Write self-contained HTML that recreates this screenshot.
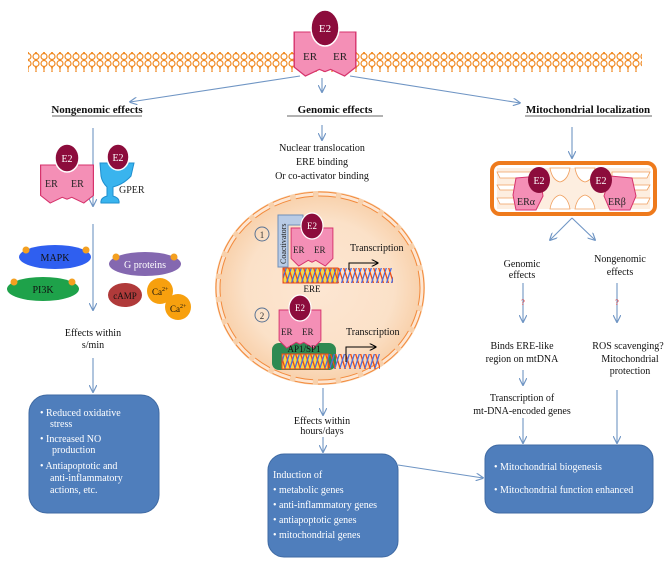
<!DOCTYPE html>
<html><head><meta charset="utf-8"><style>
html,body{margin:0;padding:0;background:#fff;}
svg{display:block;font-family:"Liberation Serif",serif;}
</style></head><body>
<svg width="670" height="564" viewBox="0 0 670 564" xmlns="http://www.w3.org/2000/svg">
<defs>
<marker id="a" viewBox="0 0 10 10" refX="9" refY="5" markerWidth="7" markerHeight="7" orient="auto"><path d="M0,0 L10,5 L0,10" fill="none" stroke="#6f95c4" stroke-width="1.5"/></marker>
<marker id="k" viewBox="0 0 10 10" refX="9" refY="5" markerWidth="7" markerHeight="7" orient="auto"><path d="M0,0 L10,5 L0,10" fill="none" stroke="#000" stroke-width="1.5"/></marker>
<pattern id="mem" width="8" height="20" patternUnits="userSpaceOnUse"><circle cx="4" cy="3.5" r="3" fill="#fff" stroke="#f08a24" stroke-width="1.2"/><circle cx="4" cy="16.5" r="3" fill="#fff" stroke="#f08a24" stroke-width="1.2"/><path d="M3,6 Q5,10 3,14 M5,6 Q3,10 5,14" stroke="#f08a24" fill="none" stroke-width="1"/></pattern>
<pattern id="dna" width="5" height="16" patternUnits="userSpaceOnUse"><path d="M0,0 Q2.5,8 5,16" stroke="#e84a1a" stroke-width="1.3" fill="none"/><path d="M0,16 Q2.5,8 5,0" stroke="#4a6ce0" stroke-width="1.3" fill="none"/></pattern>
<pattern id="dnay" width="5" height="16" patternUnits="userSpaceOnUse"><rect width="5" height="16" fill="#f6d84a"/><path d="M0,0 Q2.5,8 5,16" stroke="#e84a1a" stroke-width="1.3" fill="none"/><path d="M0,16 Q2.5,8 5,0" stroke="#4a6ce0" stroke-width="1.3" fill="none"/></pattern>
<radialGradient id="nuc" cx="50%" cy="50%" r="50%"><stop offset="0" stop-color="#fde6d2"/><stop offset="0.7" stop-color="#fbe1c8"/><stop offset="1" stop-color="#f8cfa8"/></radialGradient>
<g id="er"><path d="M-22,0 L-4,0 L0,6 L4,0 L22,0 L22,32 L14,40 L4,34 L0,36 L-4,34 L-14,40 L-22,32 Z" fill="#f48fb6" stroke="#d6336c" stroke-width="1"/></g>
</defs>

<rect x="28" y="52" width="614" height="20" fill="url(#mem)"/>
<use href="#er" transform="translate(325,32) scale(1.4,1.1)"/>
<text x="303" y="60" font-size="11" fill="#222">ER</text>
<text x="333" y="60" font-size="11" fill="#222">ER</text>
<ellipse cx="325" cy="28" rx="14" ry="18" fill="#8c0c3c" stroke="#fff" stroke-width="1.5"/>
<text x="325" y="32" font-size="11" fill="#fff" text-anchor="middle">E2</text>

<g stroke="#6f95c4" stroke-width="1.1" fill="none" marker-end="url(#a)">
<line x1="300" y1="76" x2="130" y2="102"/>
<line x1="322" y1="78" x2="322" y2="92"/>
<line x1="350" y1="76" x2="520" y2="103"/>
<line x1="322" y1="125" x2="322" y2="140"/>
<line x1="93" y1="128" x2="93" y2="206"/>
<line x1="93" y1="224" x2="93" y2="310"/>
<line x1="93" y1="358" x2="93" y2="392"/>
<line x1="572" y1="127" x2="572" y2="158"/>
<line x1="572" y1="218" x2="550" y2="240"/>
<line x1="572" y1="218" x2="595" y2="240"/>
<line x1="523" y1="283" x2="523" y2="322"/>
<line x1="617" y1="283" x2="617" y2="322"/>
<line x1="523" y1="370" x2="523" y2="385"/>
<line x1="523" y1="418" x2="523" y2="443"/>
<line x1="617" y1="390" x2="617" y2="443"/>
<line x1="323" y1="388" x2="323" y2="415"/>
<line x1="323" y1="437" x2="323" y2="452"/>
<line x1="398" y1="465" x2="483" y2="478"/>
</g>
<text x="523" y="305" font-size="8" fill="#e02020" text-anchor="middle">?</text>
<text x="617" y="305" font-size="8" fill="#e02020" text-anchor="middle">?</text>

<g font-size="11" font-weight="bold" fill="#111" text-anchor="middle">
<text x="97" y="113">Nongenomic effects</text>
<text x="335" y="113">Genomic effects</text>
<text x="588" y="113">Mitochondrial localization</text>
</g>
<g stroke="#333" stroke-width="0.8">
<line x1="52" y1="116" x2="142" y2="116"/>
<line x1="287" y1="116" x2="383" y2="116"/>
<line x1="525" y1="116" x2="652" y2="116"/>
</g>

<use href="#er" transform="translate(67,165) scale(1.2,0.95)"/>
<text x="45" y="187" font-size="10" fill="#222">ER</text>
<text x="71" y="187" font-size="10" fill="#222">ER</text>
<ellipse cx="67" cy="158" rx="12" ry="14" fill="#8c0c3c" stroke="#fff" stroke-width="1.5"/>
<text x="67" y="162" font-size="10" fill="#fff" text-anchor="middle">E2</text>
<path d="M100,163 L134,163 L131,176 Q124,184 113,187 L113,196 Q120,198 119,203 L101,203 Q100,198 107,196 L107,187 Q102,182 101,176 Z" fill="#39b4ee" stroke="#1e8fcf"/>
<ellipse cx="118" cy="157" rx="11" ry="13" fill="#8c0c3c" stroke="#fff" stroke-width="1.5"/>
<text x="118" y="161" font-size="10" fill="#fff" text-anchor="middle">E2</text>
<text x="119" y="193" font-size="10" fill="#222">GPER</text>

<ellipse cx="55" cy="257" rx="36" ry="12" fill="#2f5ff0"/>
<text x="55" y="261" font-size="10" text-anchor="middle" fill="#111">MAPK</text>
<ellipse cx="43" cy="289" rx="36" ry="12" fill="#1ea24a"/>
<text x="43" y="293" font-size="10" text-anchor="middle" fill="#111">PI3K</text>
<ellipse cx="145" cy="264" rx="36" ry="12" fill="#8468b0"/>
<text x="145" y="268" font-size="10" text-anchor="middle" fill="#fff">G proteins</text>
<g fill="#f4a020"><circle cx="26" cy="250" r="3.5"/><circle cx="86" cy="250" r="3.5"/><circle cx="14" cy="282" r="3.5"/><circle cx="72" cy="282" r="3.5"/><circle cx="116" cy="257" r="3.5"/><circle cx="174" cy="257" r="3.5"/></g>
<ellipse cx="125" cy="295" rx="17" ry="12" fill="#b03a3a"/>
<text x="125" y="299" font-size="9" text-anchor="middle" fill="#111">cAMP</text>
<circle cx="178" cy="307" r="13" fill="#f7a00e"/>
<circle cx="160" cy="291" r="13" fill="#f7a00e"/>
<text x="152" y="295" font-size="9" fill="#111">Ca<tspan font-size="6" dy="-4">2+</tspan></text>
<text x="170" y="312" font-size="9" fill="#111">Ca<tspan font-size="6" dy="-4">2+</tspan></text>

<g font-size="10" fill="#111" text-anchor="middle">
<text x="93" y="336">Effects within</text>
<text x="93" y="348">s/min</text>
<text x="322" y="151">Nuclear translocation</text>
<text x="322" y="165">ERE binding</text>
<text x="322" y="179">Or co-activator binding</text>
<text x="322" y="424">Effects within</text>
<text x="322" y="434">hours/days</text>
<text x="522" y="267">Genomic</text>
<text x="522" y="278">effects</text>
<text x="620" y="262">Nongenomic</text>
<text x="620" y="275">effects</text>
<text x="522" y="349">Binds ERE-like</text>
<text x="522" y="362">region on mtDNA</text>
<text x="628" y="349">ROS scavenging?</text>
<text x="630" y="362">Mitochondrial</text>
<text x="630" y="374">protection</text>
<text x="522" y="401">Transcription of</text>
<text x="522" y="414">mt-DNA-encoded genes</text>
</g>

<ellipse cx="320" cy="288" rx="105" ry="97" fill="url(#nuc)"/>
<ellipse cx="320" cy="288" rx="102" ry="94" fill="none" stroke="#f28a3c" stroke-width="5" stroke-dasharray="18 5"/>
<ellipse cx="320" cy="288" rx="102" ry="94" fill="none" stroke="#fde6d2" stroke-width="3" stroke-dasharray="18 5"/>
<circle cx="262" cy="234" r="7" fill="none" stroke="#5a7394"/><text x="262" y="238" font-size="9" text-anchor="middle" fill="#333">1</text>
<circle cx="262" cy="315" r="7" fill="none" stroke="#5a7394"/><text x="262" y="319" font-size="9" text-anchor="middle" fill="#333">2</text>
<path d="M278,215 L303,215 L303,225 L288,225 L288,267 L278,267 Z" fill="#b8cbe6" stroke="#6f8fb8"/>
<text transform="translate(286,264) rotate(-90)" font-size="8" fill="#222">Coactivators</text>
<use href="#er" transform="translate(312,228) scale(0.95,0.95)"/>
<text x="293" y="253" font-size="9" fill="#222">ER</text>
<text x="314" y="253" font-size="9" fill="#222">ER</text>
<ellipse cx="312" cy="226" rx="11" ry="13" fill="#8c0c3c" stroke="#fff" stroke-width="1.2"/>
<text x="312" y="229" font-size="9" fill="#fff" text-anchor="middle">E2</text>
<rect x="283" y="268" width="55" height="15" fill="url(#dnay)" stroke="#e84a1a"/>
<rect x="338" y="268" width="55" height="15" fill="url(#dna)"/>
<text x="312" y="292" font-size="9" text-anchor="middle" fill="#111">ERE</text>
<text x="350" y="251" font-size="10" fill="#111">Transcription</text>
<path d="M349,270 L349,263 L378,263" fill="none" stroke="#000" marker-end="url(#k)"/>
<rect x="272" y="343" width="64" height="27" rx="7" fill="#2e8a52"/>
<use href="#er" transform="translate(300,310) scale(0.95,0.95)"/>
<text x="281" y="335" font-size="9" fill="#222">ER</text>
<text x="302" y="335" font-size="9" fill="#222">ER</text>
<ellipse cx="300" cy="308" rx="11" ry="13" fill="#8c0c3c" stroke="#fff" stroke-width="1.2"/>
<text x="300" y="311" font-size="9" fill="#fff" text-anchor="middle">E2</text>
<text x="304" y="352" font-size="9" text-anchor="middle" fill="#111">AP1/SP1</text>
<rect x="282" y="354" width="46" height="15" fill="url(#dnay)" stroke="#e84a1a"/>
<rect x="328" y="354" width="52" height="15" fill="url(#dna)"/>
<text x="346" y="335" font-size="10" fill="#111">Transcription</text>
<path d="M346,362 L346,347 L376,347" fill="none" stroke="#000" marker-end="url(#k)"/>

<rect x="492" y="163" width="163" height="51" rx="8" fill="#fff" stroke="#ee7a1c" stroke-width="4"/>
<rect x="497" y="168" width="153" height="41" fill="#fdeee0"/>
<g fill="#fff" stroke="#f0a060" stroke-width="0.8">
<path d="M497,172 L535,172 L535,178 L500,178 Z"/><path d="M497,185 L530,185 L530,190 L500,190 Z"/><path d="M497,198 L535,198 L535,204 L500,204 Z"/>
<path d="M550,168 Q552,180 560,182 Q568,180 570,168 Z"/><path d="M575,168 Q577,180 585,182 Q593,180 595,168 Z"/>
<path d="M550,209 Q552,197 560,195 Q568,197 570,209 Z"/><path d="M575,209 Q577,197 585,195 Q593,197 595,209 Z"/>
<path d="M650,172 L612,172 L612,178 L647,178 Z"/><path d="M650,185 L617,185 L617,190 L647,190 Z"/><path d="M650,198 L612,198 L612,204 L647,204 Z"/>
</g>
<path d="M516,178 L540,176 L543,196 L536,210 L516,210 L513,195 Z" fill="#f48fb6" stroke="#d6336c"/>
<ellipse cx="539" cy="180" rx="11" ry="13" fill="#8c0c3c"/>
<text x="539" y="184" font-size="10" fill="#fff" text-anchor="middle">E2</text>
<text x="517" y="205" font-size="10" fill="#222">ERα</text>
<path d="M610,176 L632,178 L636,196 L630,210 L610,210 L604,196 Z" fill="#f48fb6" stroke="#d6336c"/>
<ellipse cx="601" cy="180" rx="11" ry="13" fill="#8c0c3c"/>
<text x="601" y="184" font-size="10" fill="#fff" text-anchor="middle">E2</text>
<text x="608" y="205" font-size="10" fill="#222">ERβ</text>

<rect x="29" y="395" width="130" height="118" rx="18" fill="#4f7ebc" stroke="#3f6aa3"/>
<g font-size="10" fill="#fff">
<text x="40" y="416">• Reduced oxidative</text>
<text x="50" y="427">stress</text>
<text x="40" y="442">• Increased NO</text>
<text x="52" y="453">production</text>
<text x="40" y="469">• Antiapoptotic and</text>
<text x="50" y="481">anti-inflammatory</text>
<text x="50" y="493">actions, etc.</text>
</g>
<rect x="268" y="454" width="130" height="103" rx="16" fill="#4f7ebc" stroke="#3f6aa3"/>
<g font-size="10" fill="#fff">
<text x="273" y="478">Induction of</text>
<text x="273" y="493">• metabolic genes</text>
<text x="273" y="508">• anti-inflammatory genes</text>
<text x="273" y="523">• antiapoptotic genes</text>
<text x="273" y="538">• mitochondrial genes</text>
</g>
<rect x="485" y="445" width="168" height="68" rx="14" fill="#4f7ebc" stroke="#3f6aa3"/>
<g font-size="10" fill="#fff">
<text x="494" y="470">• Mitochondrial biogenesis</text>
<text x="494" y="493">• Mitochondrial function enhanced</text>
</g>
</svg>
</body></html>
